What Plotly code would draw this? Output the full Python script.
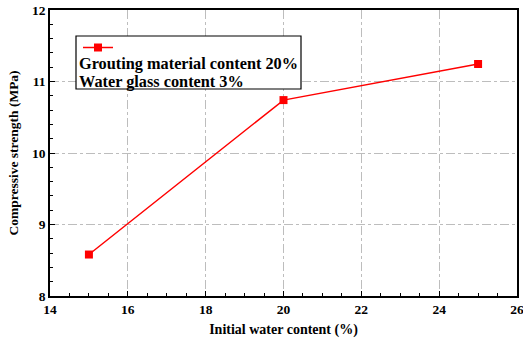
import plotly.graph_objects as go

water_content = [15, 20, 25]
strength = [8.58, 10.74, 11.245]
legend_lines = ["Grouting material content 20%", "Water glass content 3%"]
x_title = "Initial water content (%)"
y_title = "Compressive strength (MPa)"

W, H = 523, 340
ml, mr, mt, mb = 50, 6, 10, 44
pw, ph = W - ml - mr, H - mt - mb

def px(x):
    return (x - ml) / pw

def py(y):
    return 1 - (y - mt) / ph

font_family = "Liberation Serif, Times New Roman, serif"

fig = go.Figure()
fig.add_trace(go.Scatter(
    x=water_content, y=strength, mode="lines+markers",
    line=dict(color="#ff0000", width=1.5),
    marker=dict(symbol="square", size=8, color="#ff0000"),
    name="", showlegend=True,
))

fig.add_shape(type="rect", xref="paper", yref="paper",
              x0=px(76), x1=px(301), y0=py(89), y1=py(36),
              line=dict(color="black", width=1.2), fillcolor="white", layer="above")

for i, t in enumerate(legend_lines):
    fig.add_annotation(
        xref="paper", yref="paper", x=px(77), y=py(64 + 17 * i),
        xanchor="left", yanchor="middle",
        text="<b>%s</b>" % t,
        showarrow=False, align="left",
        font=dict(family=font_family, size=16.3, color="black"),
    )

axis_common = dict(
    automargin=False,
    showline=True, linecolor="black", linewidth=1.5, mirror=True,
    ticks="inside", ticklen=5, tickwidth=1.2, tickcolor="black",
    showgrid=True, gridcolor="#bdbdbd", griddash="dashdot", gridwidth=1,
    zeroline=False,
    tickfont=dict(family=font_family, size=13.5, color="black", weight="bold"),
    minor=dict(ticks="inside", ticklen=3, tickcolor="black", showgrid=False),
)

fig.update_xaxes(range=[14, 26], dtick=2, ticklabeloverflow="allow", **axis_common,
                 title=dict(text="<b>%s</b>" % x_title, standoff=8,
                            font=dict(family=font_family, size=14, color="black")))
fig.update_yaxes(range=[8, 12], dtick=1, **axis_common,
                 title=dict(text="<b>%s</b>" % y_title, standoff=10,
                            font=dict(family=font_family, size=13.5, color="black")))

fig.update_layout(
    width=W, height=H,
    margin=dict(l=ml, r=mr, t=mt, b=mb),
    paper_bgcolor="white", plot_bgcolor="white",
    showlegend=True,
    legend=dict(x=px(78), y=py(33), xanchor="left", yanchor="top",
                bgcolor="rgba(0,0,0,0)", borderwidth=0,
                font=dict(family=font_family, size=10)),
)

fig.write_html("out.html", config={"displayModeBar": False},
               post_script="document.body.style.margin='0';document.body.style.overflow='hidden';")
